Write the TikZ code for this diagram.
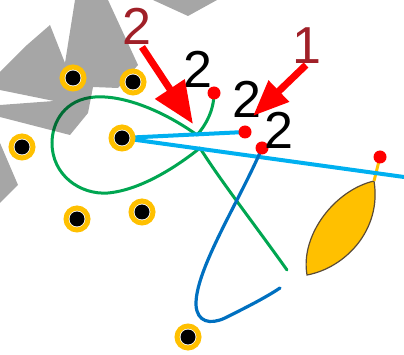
\documentclass[tikz,border=0pt]{standalone}
\usepackage{fontspec}
\setmainfont{Liberation Sans}
\usetikzlibrary{arrows.meta}
\definecolor{ringyellow}{RGB}{255,192,0}
\definecolor{lgreen}{RGB}{0,166,81}
\definecolor{lblue}{RGB}{0,176,240}
\definecolor{dblue}{RGB}{0,112,192}
\definecolor{dred}{RGB}{160,32,40}
\definecolor{leafline}{RGB}{90,75,55}
\pgfdeclarelayer{bg}
\pgfdeclarelayer{mid}
\pgfsetlayers{bg,mid,main}
\begin{document}
\begin{tikzpicture}[x=1pt,y=-1pt,
  hole/.style={circle, draw=ringyellow, line width=5pt, fill=white, minimum size=22pt, inner sep=0pt,
    path picture={\fill[black] (path picture bounding box.center) circle[radius=7.5pt];}},
  dot/.style={circle, fill=red, inner sep=0pt, minimum size=13pt},
  num/.style={inner sep=0pt, font=\fontsize{52}{52}\selectfont},
  wire/.style={line width=3pt, line cap=round},
  redarrow/.style={draw=red, line width=7pt},
  water/.style={fill=black, opacity=0.35}]
\useasboundingbox (0,0) rectangle (404,355);

% holes
\node[hole] (h1) at (73,78) {};
\node[hole] (h2) at (133,82) {};
\node[hole] (h3) at (22,147) {};
\node[hole] (h4) at (122,138) {};
\node[hole] (h5) at (77,219) {};
\node[hole] (h6) at (142,212) {};
\node[hole] (h7) at (188,337) {};

% red dots
\node[dot] (r1) at (214,93) {};
\node[dot] (r2) at (245,132) {};
\node[dot] (r3) at (262,148) {};
\node[dot] (r4) at (380,157) {};

\coordinate (edge) at (404,177);
\coordinate (leaftop) at (374,181);
\coordinate (ga) at (197,135);
\coordinate (gb) at (200,148);

% labels
\node[num, text=dred] (t2) at (137,26) {2};
\node[num, text=dred] (t1) at (307,46) {1};
\node[num] (b1) at (198,69) {2};
\node[num] (b2) at (247,99) {2};
\node[num] (b3) at (279,130) {2};

% arrows
\coordinate (a1s) at (142,47);
\coordinate (a1t) at (193,124);
\coordinate (a2s) at (306,65);
\coordinate (a2t) at (253,116);
\draw[redarrow, -{Triangle[length=42pt,width=34pt]}] (a1s) -- (a1t);
\draw[redarrow, -{Triangle[length=36pt,width=28pt]}] (a2s) -- (a2t);

\begin{pgfonlayer}{bg}
  % leaf
  \filldraw[fill=ringyellow, draw=leafline, line width=1.2pt]
    (leaftop) .. controls (335,190) and (300,235) .. (307,275)
    .. controls (345,268) and (382,230) .. (leaftop) -- cycle;
  \draw[line width=3pt, ringyellow] (r4.center) -- (leaftop);
  % green curve
  \draw[wire, lgreen] (r1.center) .. controls (214,110) and (206,125) .. (ga);
  \draw[wire, lgreen] (ga) .. controls (165,112) and (125,95) .. (95,97)
    .. controls (65,99) and (52,122) .. (52,143)
    .. controls (52,175) and (80,195) .. (108,193)
    .. controls (140,190) and (175,168) .. (gb);
  \draw[wire, lgreen] (gb) .. controls (220,180) and (255,225) .. (287,270);
  % light blue lines
  \draw[line width=4pt, lblue] (h4.center) -- (r2.center);
  \draw[line width=4pt, lblue] (h4.center) -- (edge);
  % dark blue curve
  \draw[line width=3.2pt, dblue, line cap=round] (r3.center) .. controls (240,200) and (195,270) .. (196,305)
    .. controls (197,322) and (210,325) .. (225,318)
    .. controls (245,308) and (265,298) .. (280,288);
\end{pgfonlayer}

\begin{pgfonlayer}{mid}
  \fill[water] (0,72) -- (27,45) -- (50,25) -- (65,63) -- (75,0) -- (108,0) -- (138,65) -- (118,88)
    -- (93,87) -- (88,113) -- (70,135) -- (0,117) -- (0,105) -- (54,101) -- (0,90) -- cycle;
  \fill[water] (153,0) -- (188,16) -- (217,0) -- cycle;
  \fill[water] (0,143) -- (18,185) -- (0,203) -- cycle;
\end{pgfonlayer}
\end{tikzpicture}
\end{document}
